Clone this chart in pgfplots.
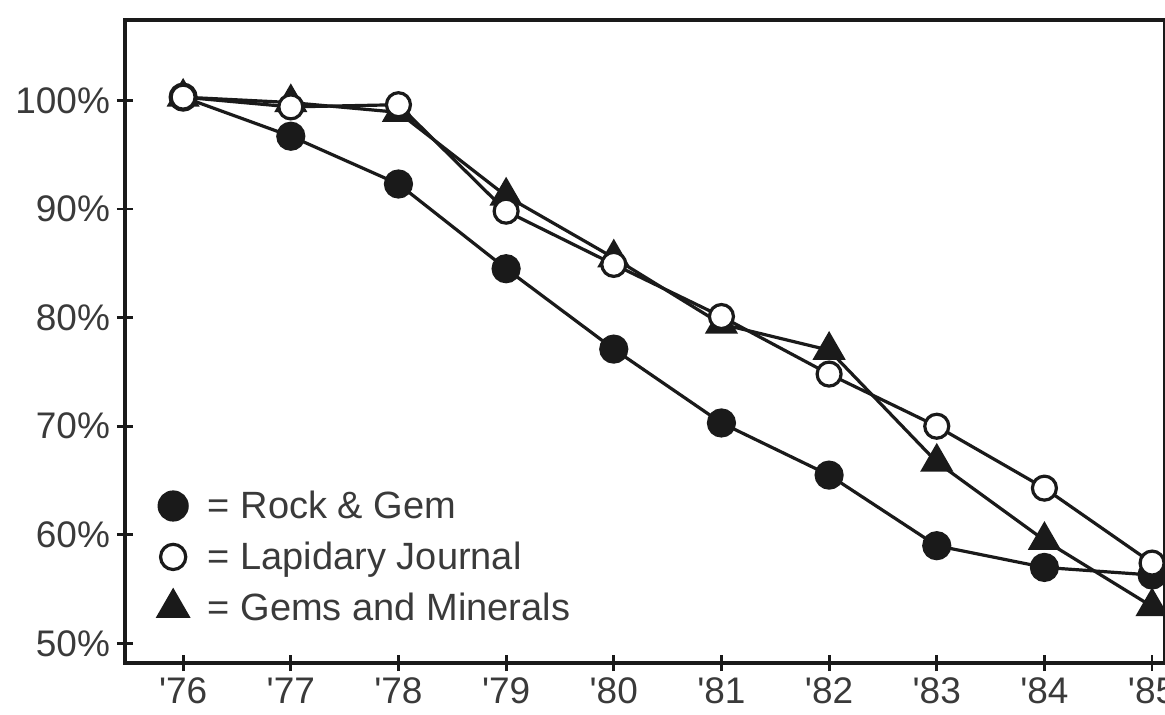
\documentclass[border=0pt]{standalone}
\usepackage{fontspec}
\setmainfont{Liberation Sans}
\usepackage{pgfplots}
\pgfplotsset{compat=1.18}
\definecolor{ink}{HTML}{1A1A1A}
\definecolor{txt}{HTML}{3A3A3A}
\begin{document}
\begin{tikzpicture}
\begin{axis}[
  at={(0,0)}, anchor=south west,
  scale only axis, width=520pt, height=321.5pt,
  xmin=-0.54, xmax=9.12, ymin=48.2, ymax=107.4,
  axis line style={ink, line width=1.6pt},
  xtick={0,...,9},
  xticklabels={\textquotesingle 76,\textquotesingle 77,\textquotesingle 78,\textquotesingle 79,\textquotesingle 80,\textquotesingle 81,\textquotesingle 82,\textquotesingle 83,\textquotesingle 84,\textquotesingle 85},
  ytick={50,60,...,100},
  yticklabel={\pgfmathprintnumber{\tick}\%},
  tick style={ink, line width=1.4pt}, major tick length=8pt, tick align=center,
  xtick pos=bottom, ytick pos=left,
  tick label style={font=\fontsize{18.5}{21}\selectfont, text=txt},
  /pgf/number format/assume math mode=true,
  legend style={at={(0.026,0.281)}, anchor=north west, draw=none, fill=none,
    font=\fontsize{19}{22}\selectfont, text=txt, row sep=6.2pt, column sep=8pt},
  legend cell align=left,
  every axis plot/.append style={ink, line width=1.6pt},
]
\addlegendimage{only marks, mark=*, mark size=7pt, ink, fill=ink}
\addlegendentry{= Rock \& Gem}
\addlegendimage{only marks, mark=*, mark size=6.3pt, ink, line width=1.6pt, mark options={fill=white}}
\addlegendentry{= Lapidary Journal}
\addlegendimage{only marks, mark=triangle*, mark size=8.5pt, ink, fill=ink}
\addlegendentry{= Gems and Minerals}
% Rock & Gem
\addplot[mark=*, mark size=6.5pt, mark options={fill=ink}] coordinates {
(0,100.3) (1,96.7) (2,92.3) (3,84.5) (4,77.1) (5,70.3) (6,65.5) (7,59.0) (8,57.0) (9,56.3)};
% Gems and Minerals
\addplot[mark=triangle*, mark size=8pt, mark options={fill=ink}] coordinates {
(0,100.3) (1,99.8) (2,98.9) (3,91.2) (4,85.5) (5,79.4) (6,77.0) (7,66.7) (8,59.5) (9,53.4)};
% Lapidary Journal
\addplot[mark=*, mark size=6pt, mark options={fill=white}] coordinates {
(0,100.3) (1,99.4) (2,99.6) (3,89.8) (4,84.9) (5,80.1) (6,74.8) (7,70.0) (8,64.3) (9,57.4)};
\end{axis}
\pgfresetboundingbox
\path[use as bounding box] (-62.5pt,-25.5pt) rectangle (520pt,331.5pt);
\end{tikzpicture}
\end{document}
